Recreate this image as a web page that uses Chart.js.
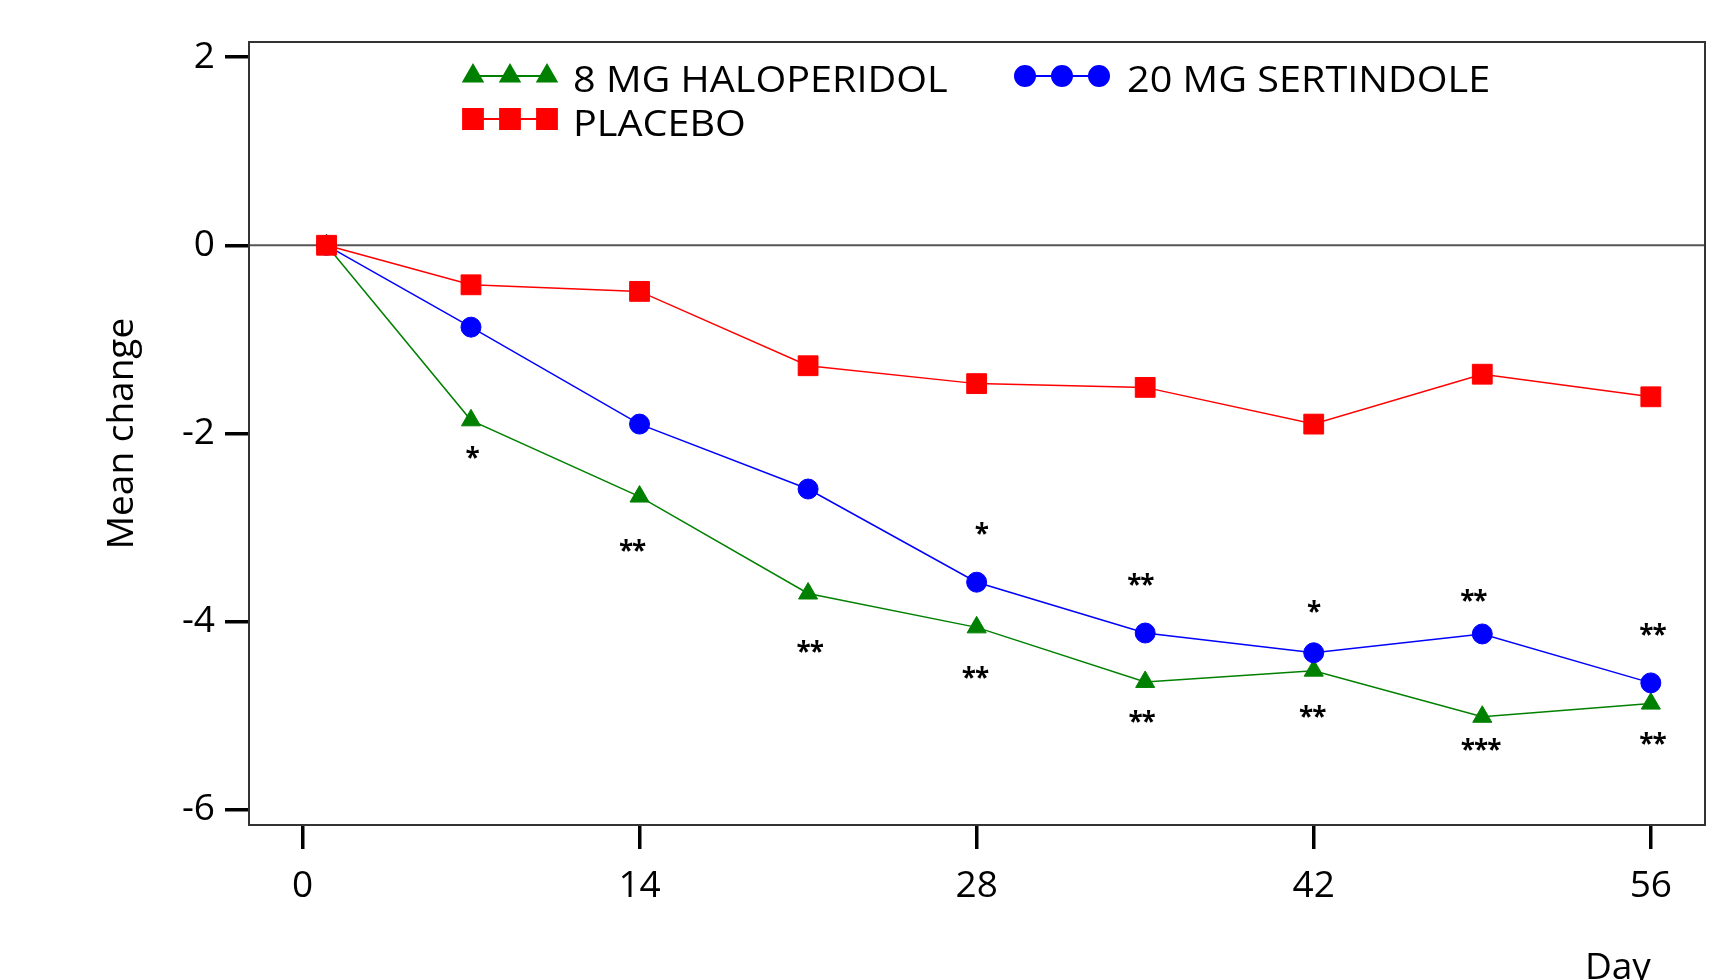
<!DOCTYPE html>
<html>
<head>
<meta charset="utf-8">
<script src="https://cdn.jsdelivr.net/npm/chart.js@4.4.0/dist/chart.umd.min.js"></script>
<style>
  html, body { margin: 0; padding: 0; background: #fff; }
  #wrap { width: 1720px; height: 980px; }
</style>
</head>
<body>
<div id="wrap"><canvas id="grafico" width="1720" height="980"></canvas></div>
<script>
// Valores
const dias = [1, 7, 14, 21, 28, 35, 42, 49, 56];
const haloperidol = [0, -1.86, -2.67, -3.70, -4.06, -4.64, -4.52, -5.01, -4.87];
const sertindole = [0, -0.87, -1.90, -2.59, -3.58, -4.12, -4.33, -4.13, -4.65];
const placebo = [0, -0.42, -0.49, -1.28, -1.47, -1.51, -1.90, -1.37, -1.61];

const ticksX = [0, 14, 28, 42, 56];
const ticksY = [-6, -4, -2, 0, 2];

// Asteriscos de significância (dia, valor)
const sigDias = [7.04, 13.69, 21.07, 28.2, 27.93, 34.8, 34.85, 41.99, 41.94, 48.63, 48.93, 56.07, 56.07];
const sigValores = [-2.25, -3.24, -4.31, -3.06, -4.59, -3.60, -5.06, -3.89, -5.00, -3.77, -5.35, -4.13, -5.29];
const sigTextos = ['*', '**', '**', '*', '**', '**', '**', '*', '**', '**', '***', '**', '**'];

const fonte = "'Open Sans', 'DejaVu Sans', sans-serif";

function pontos(valores) {
    return dias.map((d, i) => ({ x: d, y: valores[i] }));
}

// Moldura e linha do zero
const moldura = {
    id: 'moldura',
    beforeDatasetsDraw(chart) {
        const { ctx, chartArea: a, scales } = chart;
        const y0 = scales.y.getPixelForValue(0);
        ctx.save();
        ctx.strokeStyle = '#555';
        ctx.lineWidth = 2;
        ctx.beginPath();
        ctx.moveTo(a.left, y0);
        ctx.lineTo(a.right, y0);
        ctx.stroke();
        ctx.strokeStyle = '#333';
        ctx.lineWidth = 2;
        ctx.strokeRect(a.left, a.top, a.right - a.left, a.bottom - a.top);
        ctx.restore();
    }
};

// Asteriscos
const asteriscos = {
    id: 'asteriscos',
    afterDatasetsDraw(chart) {
        const { ctx, scales } = chart;
        ctx.save();
        ctx.fillStyle = '#000';
        ctx.font = '700 26px ' + fonte;
        ctx.letterSpacing = '-1px';
        ctx.textAlign = 'center';
        ctx.textBaseline = 'alphabetic';
        sigTextos.forEach((t, i) => {
            const px = scales.x.getPixelForValue(sigDias[i]);
            const py = scales.y.getPixelForValue(sigValores[i]);
            ctx.fillText(t, px, py + 10);
        });
        ctx.restore();
    }
};

// Legenda com três marcadores
const legenda = {
    id: 'legendaCustom',
    afterDraw(chart) {
        const { ctx } = chart;
        const itens = [
            { ds: 0, x: 473, y: 76, tx: 573, ty: 92 },
            { ds: 1, x: 1025, y: 76, tx: 1127, ty: 92 },
            { ds: 2, x: 473, y: 119, tx: 573, ty: 136 }
        ];
        ctx.save();
        itens.forEach(it => {
            const d = chart.data.datasets[it.ds];
            ctx.strokeStyle = d.borderColor;
            ctx.lineWidth = 2;
            ctx.beginPath();
            ctx.moveTo(it.x, it.y);
            ctx.lineTo(it.x + 74, it.y);
            ctx.stroke();
            ctx.fillStyle = d.backgroundColor;
            [0, 37, 74].forEach(dx => {
                Chart.helpers.drawPoint(ctx, {
                    pointStyle: d.pointStyle,
                    radius: d.pointRadius,
                    rotation: 0,
                    borderWidth: 1
                }, it.x + dx, it.y);
            });
            ctx.fillStyle = '#000';
            ctx.font = '37px ' + fonte;
            ctx.textAlign = 'left';
            ctx.textBaseline = 'alphabetic';
            ctx.save();
            ctx.translate(it.tx, it.ty);
            ctx.scale(1.07, 1);
            ctx.fillText(d.label, 0, 0);
            ctx.restore();
        });
        // rótulo do eixo x
        ctx.font = '37px ' + fonte;
        ctx.textAlign = 'right';
        ctx.fillText('Day', chart.scales.x.getPixelForValue(56), 979);
        ctx.restore();
    }
};

const ctx = document.getElementById('grafico').getContext('2d');
const grafico = new Chart(ctx, {
    type: 'line',
    data: {
        datasets: [
            {
                label: '8 MG HALOPERIDOL',
                data: pontos(haloperidol),
                borderColor: '#008000',
                backgroundColor: '#008000',
                pointStyle: 'triangle',
                pointRadius: 11,
                pointBorderWidth: 1,
                borderWidth: 1.5,
                order: 2
            },
            {
                label: '20 MG SERTINDOLE',
                data: pontos(sertindole),
                borderColor: '#0000ff',
                backgroundColor: '#0000ff',
                pointStyle: 'circle',
                pointRadius: 10,
                pointBorderWidth: 1,
                borderWidth: 1.5,
                order: 1
            },
            {
                label: 'PLACEBO',
                data: pontos(placebo),
                borderColor: '#ff0000',
                backgroundColor: '#ff0000',
                pointStyle: 'rect',
                pointRadius: 14,
                pointBorderWidth: 1,
                borderWidth: 1.5,
                order: 0
            }
        ]
    },
    options: {
        responsive: false,
        animation: false,
        layout: { padding: { top: 42, right: 13, left: 0, bottom: 0 } },
        plugins: {
            legend: { display: false },
            tooltip: { enabled: false }
        },
        scales: {
            x: {
                type: 'linear',
                min: -2.22,
                max: 58.25,
                afterBuildTicks: s => { s.ticks = ticksX.map(v => ({ value: v })); },
                afterFit: s => { s.height = 155; s.paddingLeft = 0; s.paddingRight = 0; },
                border: { display: false },
                grid: { drawOnChartArea: false, drawTicks: true, tickLength: 24, color: '#000', lineWidth: 3.5 },
                ticks: { color: '#000', padding: 15, font: { family: fonte, size: 37 } }
            },
            y: {
                min: -6.16,
                max: 2.16,
                afterBuildTicks: s => { s.ticks = ticksY.map(v => ({ value: v })); },
                afterFit: s => { s.width = 249; s.paddingTop = 0; s.paddingBottom = 0; },
                border: { display: false },
                grid: { drawOnChartArea: false, drawTicks: true, tickLength: 24, color: '#000', lineWidth: 3.5 },
                ticks: { color: '#000', padding: 10, font: { family: fonte, size: 37 } },
                title: {
                    display: true,
                    text: 'Mean change',
                    color: '#000',
                    font: { family: fonte, size: 37 },
                    padding: { top: 100, bottom: 0 }
                }
            }
        }
    },
    plugins: [moldura, asteriscos, legenda]
});
</script>
</body>
</html>
